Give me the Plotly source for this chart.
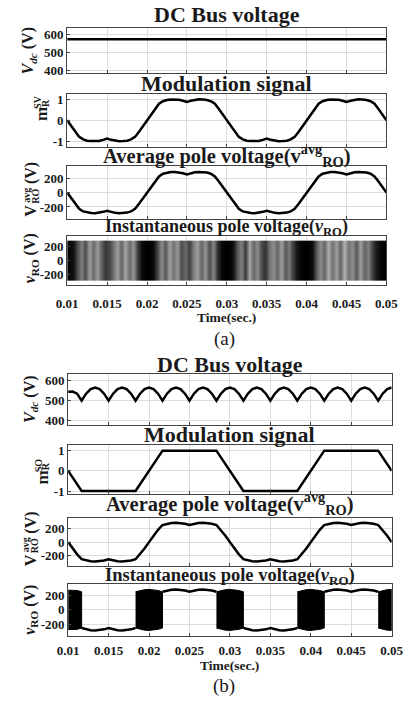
import numpy as np
import plotly.graph_objects as go

W, H = 415, 707
FONT = "Liberation Serif, Times New Roman, serif"
INK = "#1a1a1a"

# ---------------- panel (a): space-vector PWM ----------------
# sample instants, 0.5 ms apart
t_a = np.round(0.01 + 0.0005 * np.arange(81), 5)

vdc_a_t = [0.01, 0.05]
vdc_a = [575, 575]

m_sv = [0, -0.27, -0.54, -0.79, -0.91, -0.97, -0.99, -1.0, -0.98, -0.93,
        -0.87, -0.93, -0.98, -1.0, -0.99, -0.97, -0.91, -0.79, -0.54, -0.27,
        0, 0.27, 0.54, 0.79, 0.91, 0.97, 0.99, 1.0, 0.98, 0.93,
        0.87, 0.93, 0.98, 1.0, 0.99, 0.97, 0.91, 0.79, 0.54, 0.27,
        0, -0.27, -0.54, -0.79, -0.91, -0.97, -0.99, -1.0, -0.98, -0.93,
        -0.87, -0.93, -0.98, -1.0, -0.99, -0.97, -0.91, -0.79, -0.54, -0.27,
        0, 0.27, 0.54, 0.79, 0.91, 0.97, 0.99, 1.0, 0.98, 0.93,
        0.87, 0.93, 0.98, 1.0, 0.99, 0.97, 0.91, 0.79, 0.54, 0.27,
        0]

vro_avg_a = [0, -78, -155, -225, -262, -278, -285, -287, -282, -268,
             -252, -268, -282, -287, -285, -278, -262, -225, -155, -78,
             0, 78, 155, 225, 262, 278, 285, 287, 282, 268,
             252, 268, 282, 287, 285, 278, 262, 225, 155, 78,
             0, -78, -155, -225, -262, -278, -285, -287, -282, -268,
             -252, -268, -282, -287, -285, -278, -262, -225, -155, -78,
             0, 78, 155, 225, 262, 278, 285, 287, 282, 268,
             252, 268, 282, 287, 285, 278, 262, 225, 155, 78,
             0]

# PWM pole voltage: switching level and apparent density per 0.5 ms bin
vro_a_level = 287.5
stripe_shade_a = [0.02, 0.08, 0.30, 0.50, 0.30, 0.62, 0.42, 0.60, 0.38, 0.22,
                  0.28, 0.45, 0.62, 0.40, 0.65, 0.42, 0.58, 0.25, 0.05, 0.0,
                  0.0, 0.05, 0.28, 0.55, 0.35, 0.62, 0.45, 0.60, 0.30, 0.42,
                  0.25, 0.50, 0.62, 0.40, 0.58, 0.30, 0.52, 0.20, 0.04, 0.0,
                  0.0, 0.08, 0.35, 0.50, 0.22, 0.65, 0.40, 0.55, 0.30, 0.20,
                  0.45, 0.55, 0.40, 0.62, 0.35, 0.50, 0.28, 0.10, 0.02, 0.0,
                  0.0, 0.06, 0.35, 0.55, 0.40, 0.68, 0.45, 0.62, 0.40, 0.70,
                  0.45, 0.55, 0.35, 0.62, 0.40, 0.50, 0.25, 0.10, 0.03, 0.0]

# ---------------- panel (b): sixty-degree clamped PWM ----------------
# sample instants, 1/1800 s apart
t_b = np.round(0.01 + np.arange(73) / 1800, 6)

vdc_b = [545, 546, 535, 500,
         535, 558, 566, 558, 535, 500, 535, 558, 566, 558, 535, 500,
         535, 558, 566, 558, 535, 500, 535, 558, 566, 558, 535, 500,
         535, 558, 566, 558, 535, 500, 535, 558, 566, 558, 535, 500,
         535, 558, 566, 558, 535, 500, 535, 558, 566, 558, 535, 500,
         535, 558, 566, 558, 535, 500, 535, 558, 566, 558, 535, 500,
         535, 558, 566, 558, 535, 500,
         535, 558, 566]

m_so_t = [0.01, 0.01167, 0.01833, 0.02167, 0.02833, 0.03167, 0.03833, 0.04167, 0.04833, 0.05]
m_so = [0, -1, -1, 1, 1, -1, -1, 1, 1, 0]

vro_avg_b = [0, -91, -179, -250,
             -268, -279, -283, -279, -268, -250, -268, -279, -283, -279, -268, -250,
             -179, -93, 0, 93, 179, 250,
             268, 279, 283, 279, 268, 250, 268, 279, 283, 279, 268, 250,
             179, 93, 0, -93, -179, -250,
             -268, -279, -283, -279, -268, -250, -268, -279, -283, -279, -268, -250,
             -179, -93, 0, 93, 179, 250,
             268, 279, 283, 279, 268, 250, 268, 279, 283, 279, 268, 250,
             179, 93, 0]

# pole voltage envelope (half of the bus voltage)
vro_env_b = [272, 273, 268, 250,
             268, 279, 283, 279, 268, 250, 268, 279, 283, 279, 268, 250,
             268, 279, 283, 279, 268, 250, 268, 279, 283, 279, 268, 250,
             268, 279, 283, 279, 268, 250, 268, 279, 283, 279, 268, 250,
             268, 279, 283, 279, 268, 250, 268, 279, 283, 279, 268, 250,
             268, 279, 283, 279, 268, 250, 268, 279, 283, 279, 268, 250,
             268, 279, 283, 279, 268, 250,
             268, 279, 283]
# (first sample, last sample, state): +1/-1 clamped to a rail, 0 switching
vro_states_b = [(0, 3, 0), (3, 15, -1), (15, 21, 0), (21, 33, 1),
                (33, 39, 0), (39, 51, -1), (51, 57, 0), (57, 69, 1), (69, 72, 0)]

x_ticks = [0.01, 0.015, 0.02, 0.025, 0.03, 0.035, 0.04, 0.045, 0.05]
x_ticktext = ["0.01", "0.015", "0.02", "0.025", "0.03", "0.035", "0.04", "0.045", "0.05"]

# ---------------- layout geometry (pixels) ----------------
xdom_a = (59.5, 397.5)
xdom_b = (60.5, 403.0)
rows = [  # (top, bottom, y-range, y-ticks, x-domain, x-label standoff or None)
    (26, 72, [385, 640], [400, 500, 600], xdom_a, None),
    (93, 146, [-1.25, 1.25], [-1, 0, 1], xdom_a, None),
    (166, 219, [-365, 365], [-200, 0, 200], xdom_a, None),
    (236, 286, [-360, 360], [-200, 0, 200], xdom_a, 6),
    (376, 427, [378, 633], [400, 500, 600], xdom_b, None),
    (447, 497, [-1.15, 1.3], [-1, 0, 1], xdom_b, None),
    (521, 570, [-355, 355], [-200, 0, 200], xdom_b, None),
    (588, 640, [-355, 355], [-200, 0, 200], xdom_b, 3),
]

fig = go.Figure()
LINE = dict(color="black", width=2.5)


def ax(i):
    return ("x" if i == 1 else f"x{i}"), ("y" if i == 1 else f"y{i}")


# (a) traces
xa, ya = ax(1)
fig.add_trace(go.Scatter(x=vdc_a_t, y=vdc_a, mode="lines", line=LINE, xaxis=xa, yaxis=ya))
xa, ya = ax(2)
fig.add_trace(go.Scatter(x=t_a, y=m_sv, mode="lines", line=LINE, xaxis=xa, yaxis=ya))
xa, ya = ax(3)
fig.add_trace(go.Scatter(x=t_a, y=vro_avg_a, mode="lines", line=LINE, xaxis=xa, yaxis=ya))
xa, ya = ax(4)
fig.add_trace(go.Heatmap(x=t_a, y=[-vro_a_level, vro_a_level], z=[stripe_shade_a],
                         colorscale=[[0, "#000000"], [1, "#ffffff"]], zmin=0, zmax=1,
                         showscale=False, zsmooth="best", hoverinfo="skip",
                         xaxis=xa, yaxis=ya))

# (b) traces
xa, ya = ax(5)
fig.add_trace(go.Scatter(x=t_b, y=vdc_b, mode="lines", line=LINE, xaxis=xa, yaxis=ya))
xa, ya = ax(6)
fig.add_trace(go.Scatter(x=m_so_t, y=m_so, mode="lines", line=LINE, xaxis=xa, yaxis=ya))
xa, ya = ax(7)
fig.add_trace(go.Scatter(x=t_b, y=vro_avg_b, mode="lines", line=LINE, xaxis=xa, yaxis=ya))
xa, ya = ax(8)
for s, e, state in vro_states_b:
    ts = list(t_b[s:e + 1])
    env = vro_env_b[s:e + 1]
    if state == 0:
        px = ts + ts[::-1]
        py = list(env) + [-v for v in env[::-1]]
        fig.add_trace(go.Scatter(x=px, y=py, mode="lines", fill="toself", fillcolor="black",
                                 line=dict(color="black", width=1), xaxis=xa, yaxis=ya))
    else:
        fig.add_trace(go.Scatter(x=ts, y=[state * v for v in env], mode="lines", line=LINE,
                                 xaxis=xa, yaxis=ya))

layout = dict(
    width=W, height=H, margin=dict(l=0, r=0, t=0, b=0),
    paper_bgcolor="white", plot_bgcolor="white", showlegend=False,
    font=dict(family=FONT, size=13, color=INK),
)
tickfont = dict(family=FONT, size=13, color=INK, weight="bold")
for i, (top, bot, yr, yt, xd, standoff) in enumerate(rows, start=1):
    xk = "xaxis" if i == 1 else f"xaxis{i}"
    yk = "yaxis" if i == 1 else f"yaxis{i}"
    xa, ya = ax(i)
    layout[xk] = dict(domain=[xd[0] / W, xd[1] / W], anchor=ya, range=[0.01, 0.05],
                      tickvals=x_ticks, ticktext=x_ticktext,
                      showticklabels=standoff is not None,
                      showgrid=True, gridcolor="#dcdcdc", gridwidth=1, zeroline=False,
                      showline=True, linecolor="#444444", linewidth=1, mirror=True,
                      ticks="inside", ticklen=3, tickcolor="#444444",
                      tickfont=tickfont, ticklabelstandoff=standoff or 0)
    layout[yk] = dict(domain=[1 - bot / H, 1 - top / H], anchor=xa, range=yr,
                      tickvals=yt, ticktext=[str(v) for v in yt],
                      showgrid=True, gridcolor="#dcdcdc", gridwidth=1, zeroline=False,
                      showline=True, linecolor="#444444", linewidth=1, mirror=True,
                      ticks="inside", ticklen=3, tickcolor="#444444",
                      tickfont=tickfont)
fig.update_layout(**layout)


def note(text, x, y, size, bold=True, angle=0):
    fig.add_annotation(text=text, x=x / W, y=1 - y / H, xref="paper", yref="paper",
                       showarrow=False, xanchor="center", yanchor="middle", textangle=angle,
                       font=dict(family=FONT, size=size, color=INK,
                                 weight="bold" if bold else "normal"))


ca = (xdom_a[0] + xdom_a[1]) / 2
cb = (xdom_b[0] + xdom_b[1]) / 2
titles = ["DC Bus voltage", "Modulation signal",
          "Average pole voltage(v<sup>avg</sup><sub>RO</sub>)",
          "Instantaneous pole voltage(<i>v</i><sub>RO</sub>)"]
for txt, y, size in zip(titles, [13, 82, 155, 228], [22, 22, 20.5, 18]):
    note(txt, ca, y, size)
for txt, y, size in zip(titles, [366, 437, 507, 580], [22, 22, 20.5, 18.5]):
    note(txt, cb, y, size)

# rotated axis labels; stacked super/subscripts are placed as separate pieces
for dy, sup in ((0, "SV"), (367, "SO")):
    note("m", 33, 113 + dy, 17, angle=-90)
    note(sup, 28.5, 101 + dy, 10, angle=-90)
    note("R", 36.5, 101.5 + dy, 10, angle=-90)
for dy in (0, 353):
    note("V", 21, 211 + dy, 16, angle=-90)
    note("avg", 15.5, 195 + dy, 10, angle=-90)
    note("RO", 25, 196 + dy, 10, angle=-90)
    note("(V)", 21, 173 + dy, 16, angle=-90)
note("<i>V</i><sub><i>dc</i></sub> (V)", 19, 49, 16, angle=-90)
note("<i>V</i><sub><i>dc</i></sub> (V)", 20, 401, 16, angle=-90)
note("<i>v</i><sub>RO</sub> (V)", 21, 259, 16, angle=-90)
note("<i>v</i><sub>RO</sub> (V)", 21, 614, 16, angle=-90)

note("Time(sec.)", ca, 318.5, 13.5)
note("Time(sec.)", cb, 670.5, 13.5)
note("(a)", 226, 340, 19, bold=False)
note("(b)", 226, 691, 19, bold=False)

fig.write_html("out.html")
